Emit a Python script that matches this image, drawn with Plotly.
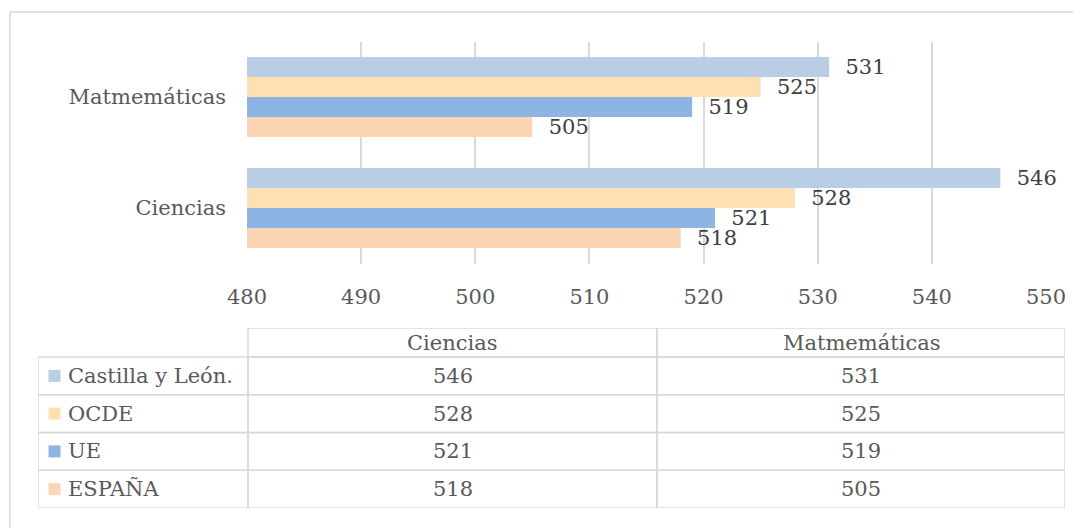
import plotly.graph_objects as go

# ---- data ----
categories = ["Ciencias", "Matmemáticas"]
series_names = ["Castilla y León.", "OCDE", "UE", "ESPAÑA"]
castilla = [546, 531]
ocde = [528, 525]
ue = [521, 519]
espana = [518, 505]
x_ticks = [480, 490, 500, 510, 520, 530, 540, 550]

colors = {"Castilla y León.": "#b9cde5", "OCDE": "#fde1b2", "UE": "#8eb4e3", "ESPAÑA": "#fcd5b5"}
values = {"Castilla y León.": castilla, "OCDE": ocde, "UE": ue, "ESPAÑA": espana}

# ---- layout constants (page offset of 8px is compensated) ----
OFF = 8
W, H = 1081 - OFF, 528 - OFF
FONT = "DejaVu Serif"
FS = 21
GRID = "#d9d9d9"
TXT = "#595959"


def px_x(v):
    return (v - OFF) / W


def px_y(v):
    return 1 - (v - OFF) / H


fig = go.Figure()

# first trace sits at the bottom of each group for horizontal bars
for name in reversed(series_names):
    fig.add_trace(go.Bar(
        y=categories, x=values[name], orientation="h", name=name,
        marker=dict(color=colors[name], line=dict(width=0)),
        text=values[name], texttemplate="  %{x}", textposition="outside",
        constraintext="none", cliponaxis=False,
        textfont=dict(family=FONT, size=FS, color="#404040"),
        hoverinfo="skip", showlegend=False,
    ))

# ---- data table drawn on its own (hidden) axes ----
col_widths = [210, 409, 408]
header_h = 29
row_h = 37.75
col_edges = [0]
for w in col_widths:
    col_edges.append(col_edges[-1] + w)
row_edges = [0, header_h]
for _ in series_names:
    row_edges.append(row_edges[-1] + row_h)
row_mid = [(row_edges[i + 1] + row_edges[i + 2]) / 2 for i in range(len(series_names))]

# legend keys in the first column
fig.add_trace(go.Scatter(
    x=[col_edges[0] + 16.5] * len(series_names), y=row_mid,
    xaxis="x2", yaxis="y2", mode="markers",
    marker=dict(symbol="square", size=12, color=[colors[n] for n in series_names],
                line=dict(width=0)),
    hoverinfo="skip", showlegend=False, cliponaxis=False,
))

shapes = []
annotations = []
cell_line = dict(color=GRID, width=1.5)

# header cells (first one left blank, no border)
for j, cat in enumerate(categories, start=1):
    shapes.append(dict(type="rect", xref="x2", yref="y2",
                       x0=col_edges[j], x1=col_edges[j + 1], y0=row_edges[0], y1=row_edges[1],
                       line=cell_line, fillcolor="rgba(0,0,0,0)"))
    annotations.append(dict(xref="x2", yref="y2", x=(col_edges[j] + col_edges[j + 1]) / 2,
                            y=(row_edges[0] + row_edges[1]) / 2, text=cat, showarrow=False,
                            font=dict(family=FONT, size=FS, color=TXT)))

columns = [series_names, [values[n][0] for n in series_names], [values[n][1] for n in series_names]]
for i, name in enumerate(series_names):
    y0, y1 = row_edges[i + 1], row_edges[i + 2]
    ym = row_mid[i]
    for j in range(3):
        shapes.append(dict(type="rect", xref="x2", yref="y2",
                           x0=col_edges[j], x1=col_edges[j + 1], y0=y0, y1=y1,
                           line=cell_line, fillcolor="rgba(0,0,0,0)"))
        if j == 0:
            annotations.append(dict(xref="x2", yref="y2", x=col_edges[0] + 28, y=ym,
                                    xanchor="left", text=name, showarrow=False,
                                    font=dict(family=FONT, size=FS, color=TXT)))
        else:
            annotations.append(dict(xref="x2", yref="y2", x=(col_edges[j] + col_edges[j + 1]) / 2,
                                    y=ym, text=str(columns[j][i]), showarrow=False,
                                    font=dict(family=FONT, size=FS, color=TXT)))

# outer chart border (right and bottom edges lie outside the visible area)
shapes.append(dict(type="rect", xref="paper", yref="paper",
                   x0=px_x(10), x1=1.05, y0=-0.05, y1=px_y(12),
                   line=dict(color=GRID, width=1.5), fillcolor="rgba(0,0,0,0)",
                   layer="below"))

fig.update_layout(
    width=W, height=H, autosize=False,
    margin=dict(l=0, r=0, t=0, b=0, autoexpand=False),
    paper_bgcolor="white", plot_bgcolor="white",
    barmode="group", bargap=0.28, bargroupgap=0,
    font=dict(family=FONT, size=FS, color=TXT),
    xaxis=dict(domain=[px_x(247), px_x(1046)], range=[480, 550],
               tickvals=x_ticks, showgrid=True, gridcolor=GRID, gridwidth=1.5,
               zeroline=False, showline=False, ticks="", automargin=False,
               ticklabelstandoff=18, fixedrange=True,
               tickfont=dict(family=FONT, size=FS, color=TXT)),
    yaxis=dict(domain=[px_y(263.5), px_y(41.5)],
               categoryorder="array", categoryarray=categories,
               showgrid=False, zeroline=False, showline=False, ticks="", automargin=False,
               ticklabelstandoff=20, fixedrange=True,
               tickfont=dict(family=FONT, size=FS, color=TXT)),
    xaxis2=dict(domain=[px_x(38), px_x(1065)], range=[0, col_edges[-1]],
                anchor="y2", visible=False, fixedrange=True),
    yaxis2=dict(domain=[px_y(328 + row_edges[-1]), px_y(328)], range=[row_edges[-1], 0],
                anchor="x2", visible=False, fixedrange=True),
    shapes=shapes,
    annotations=annotations,
)

fig.write_html("out.html")
